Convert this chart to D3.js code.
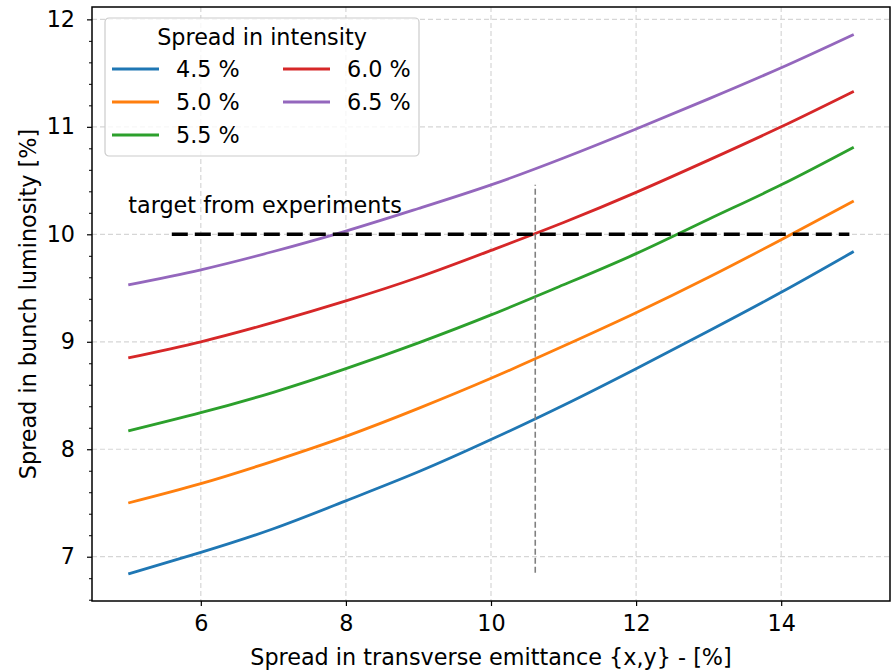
<!DOCTYPE html>
<html>
<head>
<meta charset="utf-8">
<script src="https://cdn.jsdelivr.net/npm/d3@7"></script>
<style>
  body { margin: 0; background: #fff; }
  svg text { font-family: "DejaVu Sans", sans-serif; }
</style>
</head>
<body>
<div id="chart"></div>
<script>
// data
const emittance = [5, 6, 7, 8, 9, 10, 11, 12, 13, 14, 15];
const spread45 = [6.84, 7.04, 7.26, 7.52, 7.79, 8.09, 8.41, 8.75, 9.10, 9.46, 9.84];
const spread50 = [7.50, 7.68, 7.89, 8.12, 8.38, 8.66, 8.96, 9.27, 9.60, 9.95, 10.31];
const spread55 = [8.17, 8.34, 8.53, 8.75, 8.99, 9.25, 9.53, 9.82, 10.14, 10.46, 10.81];
const spread60 = [8.85, 9.00, 9.18, 9.38, 9.60, 9.85, 10.11, 10.39, 10.69, 11.00, 11.33];
const spread65 = [9.53, 9.67, 9.84, 10.03, 10.24, 10.46, 10.71, 10.98, 11.26, 11.55, 11.86];
const seriesNames = ["4.5 %", "5.0 %", "5.5 %", "6.0 %", "6.5 %"];
const seriesColors = ["#1f77b4", "#ff7f0e", "#2ca02c", "#d62728", "#9467bd"];
const xTicks = [6, 8, 10, 12, 14];
const yTicks = [7, 8, 9, 10, 11, 12];
const target = 10;
const targetX = [5.6, 14.94];
const crossX = 10.61;
const crossY = [6.85, 10.46];

const width = 891, height = 670;
const margin = { top: 7, right: 1, bottom: 69, left: 92 };
const fs = 22.3;

const svg = d3.select("#chart").append("svg")
  .attr("width", width)
  .attr("height", height);

const x = d3.scaleLinear().domain([4.5, 15.5]).range([margin.left, width - margin.right]);
const y = d3.scaleLinear().domain([6.588, 12.115]).range([height - margin.bottom, margin.top]);

// grid
const grid = svg.append("g");
grid.selectAll(".gx").data(xTicks).join("line")
  .attr("x1", d => x(d)).attr("x2", d => x(d))
  .attr("y1", margin.top).attr("y2", height - margin.bottom)
  .attr("stroke", "#d6d6d6").attr("stroke-width", 1.2).attr("stroke-dasharray", "5,3");
grid.selectAll(".gy").data(yTicks).join("line")
  .attr("y1", d => y(d)).attr("y2", d => y(d))
  .attr("x1", margin.left).attr("x2", width - margin.right)
  .attr("stroke", "#d6d6d6").attr("stroke-width", 1.2).attr("stroke-dasharray", "5,3");

// series
const series = [spread45, spread50, spread55, spread60, spread65];
const line = d3.line()
  .x((d, i) => x(emittance[i]))
  .y(d => y(d))
  .curve(d3.curveNatural);

svg.append("g").selectAll("path").data(series).join("path")
  .attr("d", d => line(d))
  .attr("fill", "none")
  .attr("stroke", (d, i) => seriesColors[i])
  .attr("stroke-width", 2.8);

// target line
svg.append("line")
  .attr("x1", x(targetX[0])).attr("x2", x(targetX[1]))
  .attr("y1", y(target)).attr("y2", y(target))
  .attr("stroke", "#000").attr("stroke-width", 3.6)
  .attr("stroke-dasharray", "16,7");

svg.append("line")
  .attr("x1", x(crossX)).attr("x2", x(crossX))
  .attr("y1", y(crossY[0])).attr("y2", y(crossY[1]))
  .attr("stroke", "#808080").attr("stroke-width", 1.6)
  .attr("stroke-dasharray", "6,3");

svg.append("text")
  .attr("x", x(5.0)).attr("y", y(10.2))
  .attr("font-size", fs)
  .text("target from experiments");

// axes
const xAxis = svg.append("g")
  .attr("transform", `translate(0,${height - margin.bottom})`)
  .call(d3.axisBottom(x).tickValues(xTicks).tickSize(5).tickPadding(9).tickFormat(d3.format("d")));
const yAxis = svg.append("g")
  .attr("transform", `translate(${margin.left},0)`)
  .call(d3.axisLeft(y).tickValues(yTicks).tickSize(5).tickPadding(12).tickFormat(d3.format("d")));
svg.append("g")
  .attr("transform", `translate(${margin.left},0)`)
  .call(d3.axisLeft(y).tickValues(d3.range(6.6, 12.11, 0.2).filter(v => Math.abs(v - Math.round(v)) > 0.01)).tickSize(3).tickFormat(""))
  .call(g => g.select(".domain").remove());

[xAxis, yAxis].forEach(g => {
  g.select(".domain").remove();
  g.selectAll("text").attr("font-size", fs).attr("fill", "#000");
  g.selectAll("line").attr("stroke-width", 1.2);
});

// frame
svg.append("rect")
  .attr("x", margin.left).attr("y", margin.top)
  .attr("width", width - margin.left - margin.right)
  .attr("height", height - margin.top - margin.bottom)
  .attr("fill", "none").attr("stroke", "#000").attr("stroke-width", 1.5);

// axis labels
svg.append("text")
  .attr("x", (margin.left + width - margin.right) / 2)
  .attr("y", height - 5)
  .attr("text-anchor", "middle")
  .attr("font-size", fs)
  .text("Spread in transverse emittance {x,y} - [%]");

svg.append("text")
  .attr("transform", `translate(36,${(margin.top + height - margin.bottom) / 2}) rotate(-90)`)
  .attr("text-anchor", "middle")
  .attr("font-size", fs)
  .text("Spread in bunch luminosity [%]");

// legend
const legend = svg.append("g").attr("transform", "translate(105,18)");
legend.append("rect")
  .attr("width", 314).attr("height", 138).attr("rx", 4)
  .attr("fill", "#fff").attr("fill-opacity", 0.8)
  .attr("stroke", "#cccccc").attr("stroke-width", 1.2);
legend.append("text")
  .attr("x", 157).attr("y", 27)
  .attr("text-anchor", "middle")
  .attr("font-size", fs)
  .text("Spread in intensity");

const rowY = [51, 84, 117];
const items = legend.selectAll(".item").data(seriesNames).join("g")
  .attr("transform", (d, i) => `translate(${i < 3 ? 7 : 178},${rowY[i % 3]})`);
items.append("line")
  .attr("x1", 0).attr("x2", 47)
  .attr("stroke", (d, i) => seriesColors[i]).attr("stroke-width", 2.8);
items.append("text")
  .attr("x", 64).attr("y", 8)
  .attr("font-size", fs)
  .text(d => d);
</script>
</body>
</html>
